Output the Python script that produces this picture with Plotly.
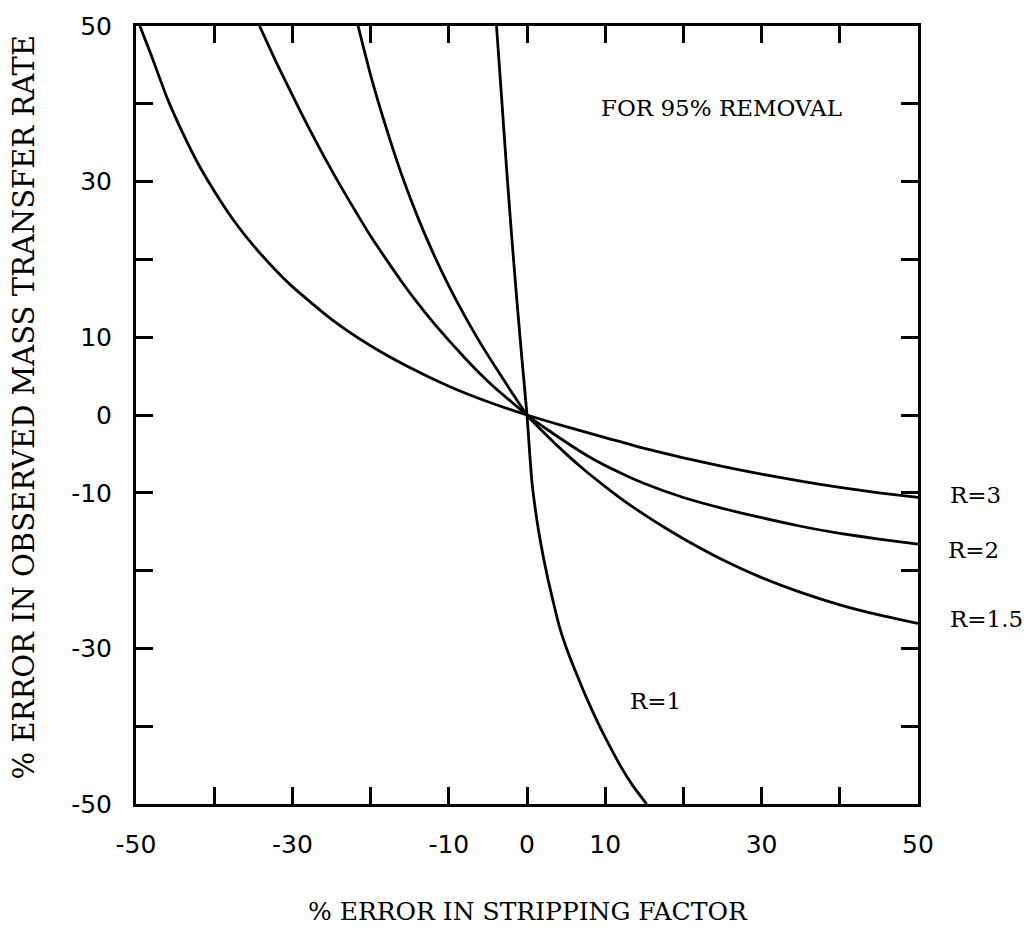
import plotly.graph_objects as go

# Values
# (% error in stripping factor vs % error in observed mass transfer rate)
r1_x = [-3.9, -3.25, -2.6, -2.0, -1.3, -0.65, 0, 0.3, 0.65, 1.05, 1.5, 2.1, 2.7, 3.4, 4.2,
        5.2, 6.3, 7.5, 9.0, 10.5, 12.0, 13.5, 15.3]
r1_y = [50, 40.8, 31.5, 23.5, 14.8, 7.2, 0, -4.3, -8.8, -12.0, -15.0, -18.3, -21.2, -24.2,
        -27.4, -30.4, -33.2, -36.1, -39.4, -42.4, -45.2, -47.6, -50]

r15_x = [-21.6, -20, -18, -16, -14, -12, -10, -8, -6, -4, -2, 0,
         2.5, 5, 7.5, 10, 12.5, 15, 17.5, 20, 25, 30, 35, 40, 45, 50]
r15_y = [50, 43.7, 36.9, 30.8, 25.5, 20.8, 16.6, 12.8, 9.3, 6.1, 3.0, 0,
         -2.6, -5.0, -7.2, -9.2, -11.1, -12.8, -14.4, -15.9, -18.6, -20.9, -22.8, -24.4, -25.7, -26.8]

r2_x = [-34.2, -32, -30, -28, -26, -24, -22, -20, -18, -16, -14, -12, -10, -8, -6, -4, -2, 0,
        2.5, 5, 7.5, 10, 12.5, 15, 20, 25, 30, 35, 40, 45, 50]
r2_y = [50, 45.2, 41.1, 37.1, 33.3, 29.7, 26.3, 23.0, 20.0, 17.1, 14.4, 11.9, 9.6, 7.4, 5.3, 3.4, 1.7, 0,
        -1.8, -3.5, -5.1, -6.5, -7.7, -8.8, -10.6, -12.0, -13.2, -14.3, -15.2, -15.95, -16.6]

r3_x = [-49.5, -48, -46, -44, -42, -40, -37.5, -35, -32.5, -30, -25, -20, -15, -10, -5, 0,
        5, 10, 15, 20, 25, 30, 35, 40, 45, 50]
r3_y = [50, 46.1, 40.7, 36.2, 32.2, 28.8, 25.0, 21.8, 19.0, 16.5, 12.3, 8.9, 6.1, 3.7, 1.7, 0,
        -1.5, -2.9, -4.3, -5.5, -6.6, -7.6, -8.5, -9.3, -10.0, -10.6]

tick_vals = [-50, -40, -30, -20, -10, 0, 10, 20, 30, 40, 50]
x_tick_text = ["-50", "", "-30", "", "-10", "0", "10", "", "30", "", "50"]
y_tick_text = ["-50", "", "-30", "", "-10", "0", "10", "", "30", "", "50"]

serif = "DejaVu Serif, Liberation Serif, serif"
sans = "DejaVu Sans, Liberation Sans, sans-serif"

fig = go.Figure()
for xs, ys in [(r1_x, r1_y), (r15_x, r15_y), (r2_x, r2_y), (r3_x, r3_y)]:
    fig.add_trace(go.Scatter(x=xs, y=ys, mode="lines",
                             line=dict(color="black", width=2.8, shape="spline", smoothing=0.6),
                             showlegend=False, hoverinfo="skip"))

axis_common = dict(range=[-50, 50], tickvals=tick_vals, ticks="inside", ticklen=17, tickwidth=3,
                   tickcolor="black", showline=True, linewidth=3, linecolor="black", mirror="ticks",
                   showgrid=False, zeroline=False, tickfont=dict(family=sans, size=25, color="black"),
                   ticklabelstandoff=16)

fig.update_xaxes(ticktext=x_tick_text, **axis_common)
fig.update_yaxes(ticktext=y_tick_text, **axis_common)

annotations = [
    dict(text="% ERROR IN STRIPPING FACTOR", xref="paper", yref="paper", x=0.501, y=-0.1376,
         xanchor="center", yanchor="middle", showarrow=False, font=dict(family=serif, size=25, color="black")),
    dict(text="% ERROR IN OBSERVED MASS TRANSFER RATE", xref="paper", yref="paper", x=-0.143, y=0.51,
         xanchor="center", yanchor="middle", textangle=-90, showarrow=False,
         font=dict(family=serif, size=29, color="black")),
    dict(text="FOR 95% REMOVAL", xref="x", yref="y", x=24.9, y=39.5, xanchor="center", yanchor="middle",
         showarrow=False, font=dict(family=serif, size=23, color="black")),
    dict(text="R=3", xref="paper", yref="paper", x=1.0384, y=0.397, xanchor="left", yanchor="middle",
         showarrow=False, font=dict(family=serif, size=23, color="black")),
    dict(text="R=2", xref="paper", yref="paper", x=1.0358, y=0.326, xanchor="left", yanchor="middle",
         showarrow=False, font=dict(family=serif, size=23, color="black")),
    dict(text="R=1.5", xref="paper", yref="paper", x=1.0384, y=0.238, xanchor="left", yanchor="middle",
         showarrow=False, font=dict(family=serif, size=23, color="black")),
    dict(text="R=1", xref="x", yref="y", x=12.9, y=-36.7, xanchor="left", yanchor="middle",
         showarrow=False, font=dict(family=serif, size=23, color="black")),
]

fig.update_layout(width=1035, height=931, margin=dict(l=136, r=117, t=19, b=127),
                  paper_bgcolor="white", plot_bgcolor="white", annotations=annotations)

fig.write_html("out.html")
